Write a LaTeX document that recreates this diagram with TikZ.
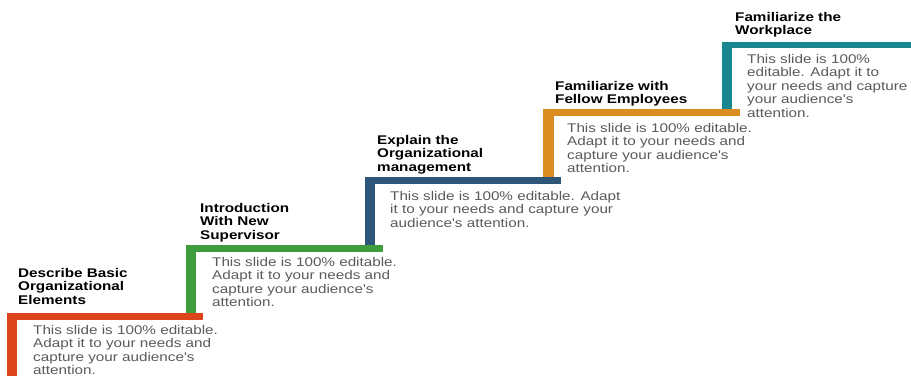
\documentclass[tikz,border=0pt]{standalone}
\usepackage{fontspec}
\setmainfont{Liberation Sans}[FakeStretch=1.21,Ligatures=TeXOff]

\definecolor{stepred}{HTML}{DC441B}
\definecolor{stepgreen}{HTML}{3F9C3C}
\definecolor{stepblue}{HTML}{2E5678}
\definecolor{steporange}{HTML}{DA8E22}
\definecolor{stepteal}{HTML}{18868F}
\definecolor{bodygray}{HTML}{5A5A5A}

\tikzset{
  steptitle/.style={anchor=north west, inner sep=0pt, align=left, font=\bfseries\fontsize{12.6}{13.5}\selectfont},
  stepbody/.style={anchor=north west, inner sep=0pt, align=left, text=bodygray, font=\fontsize{12.6}{13.5}\selectfont},
}

\begin{document}
\begin{tikzpicture}[x=1pt,y=-1pt]
  \useasboundingbox (0,0) rectangle (911,376);

  % the stair: one riser and one tread per step, top step first
  \fill[stepteal] (722,42) rectangle (732,116); \fill[stepteal] (722,42) rectangle (911,48);
  \fill[steporange] (543,109) rectangle (554,184); \fill[steporange] (543,109) rectangle (740,116);
  \fill[stepblue] (365,177) rectangle (375,252); \fill[stepblue] (365,177) rectangle (561,184);
  \fill[stepgreen] (186,245) rectangle (196,320); \fill[stepgreen] (186,245) rectangle (383,252);
  \fill[stepred] (7,313) rectangle (17,376); \fill[stepred] (7,313) rectangle (203,320);

  % headings above each tread
  \node[steptitle] (title1) at (18,268) {Describe Basic\\Organizational\\Elements};
  \node[steptitle] (title2) at (200,203) {Introduction\\With New\\Supervisor};
  \node[steptitle] (title3) at (377,135) {Explain the\\Organizational\\management};
  \node[steptitle] (title4) at (555,81) {Familiarize with\\Fellow Employees};
  \node[steptitle] (title5) at (735,12) {Familiarize the\\Workplace};

  % text under each tread
  \node[stepbody] (text1) at (33,325) {This slide is 100\% editable.\\Adapt it to your needs and\\capture your audience's\\attention.};
  \node[stepbody] (text2) at (212,257) {This slide is 100\% editable.\\Adapt it to your needs and\\capture your audience's\\attention.};
  \node[stepbody] (text3) at (390,191) {This slide is 100\% editable. Adapt\\it to your needs and capture your\\audience's attention.};
  \node[stepbody] (text4) at (567,123) {This slide is 100\% editable.\\Adapt it to your needs and\\capture your audience's\\attention.};
  \node[stepbody] (text5) at (747,54) {This slide is 100\%\\editable. Adapt it to\\your needs and capture\\your audience's\\attention.};
\end{tikzpicture}
\end{document}
